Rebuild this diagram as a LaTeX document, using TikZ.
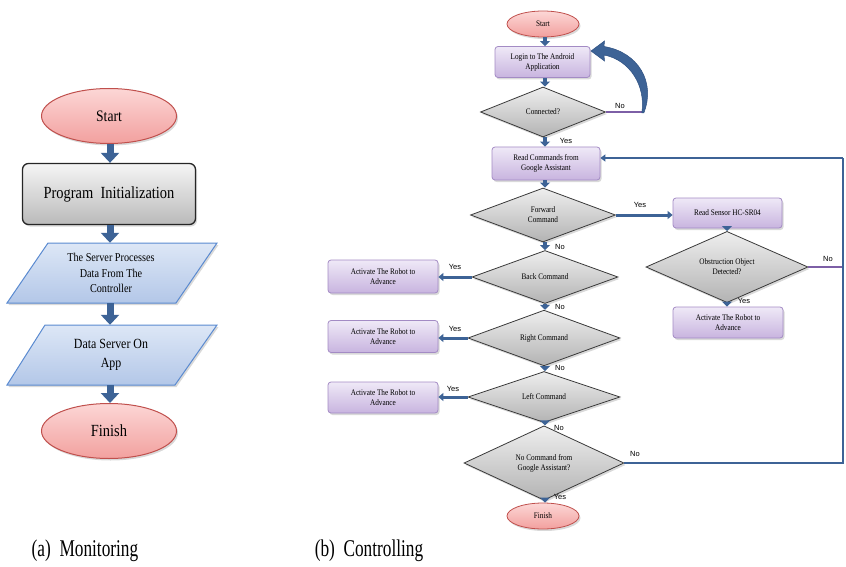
\documentclass[tikz,border=0pt]{standalone}
\usepackage{fontspec}
\setmainfont{Liberation Serif}[FakeStretch=0.85]
\newfontfamily\capfont{Liberation Serif}[FakeStretch=0.72]
\newfontfamily\lblfont{Liberation Sans}
\usetikzlibrary{shapes.geometric,arrows.meta,shadows}
\definecolor{arrblue}{HTML}{3D6396}
\definecolor{arrdark}{HTML}{2F5182}
\definecolor{purpline}{HTML}{7D5FA6}
\definecolor{boxdraw}{HTML}{A38BC4}
\definecolor{boxtop}{HTML}{EFE9F7}
\definecolor{boxbot}{HTML}{C8B4DF}
\definecolor{diadraw}{HTML}{3A3A3A}
\definecolor{diatop}{HTML}{EEEEEE}
\definecolor{diabot}{HTML}{B3B3B3}
\definecolor{termdraw}{HTML}{C0504D}
\definecolor{termtop}{HTML}{FCD7D6}
\definecolor{termbot}{HTML}{F2A09E}
\definecolor{paradraw}{HTML}{5A8AD0}
\definecolor{paratop}{HTML}{DDE7F6}
\definecolor{parabot}{HTML}{B3C7E8}
\tikzset{
  shad/.style={drop shadow={opacity=0.3,shadow xshift=1.5pt,shadow yshift=-2pt}},
  pbox/.style={rectangle,rounded corners=3pt,draw=boxdraw,line width=0.8pt,
    top color=boxtop,bottom color=boxbot,align=center,inner sep=1pt,shad,
    font=\fontsize{8.5}{10}\selectfont},
  dia/.style={diamond,draw=diadraw,line width=0.8pt,top color=diatop,bottom color=diabot,
    inner sep=0pt,align=center,shad,font=\fontsize{8.5}{10}\selectfont},
  sterm/.style={ellipse,draw=termdraw,line width=0.8pt,top color=termtop,bottom color=termbot,
    inner sep=0pt,minimum width=72pt,minimum height=26pt,shad,font=\fontsize{8.5}{10}\selectfont},
  bterm/.style={ellipse,draw=termdraw,line width=1pt,top color=termtop,bottom color=termbot,
    inner sep=0pt,minimum width=135pt,minimum height=55pt,shad},
  initbox/.style={rectangle,rounded corners=6pt,draw=black!85,line width=1.3pt,
    top color=black!4,bottom color=black!27,minimum width=173pt,minimum height=61pt,shad,
    font=\fontsize{17}{20}\selectfont},
  paranode/.style={minimum width=130pt,minimum height=60pt,inner sep=0pt,align=center},
  parashape/.style={draw=paradraw,line width=1pt,top color=paratop,bottom color=parabot,shad},
  barrow/.style={draw=arrblue,line width=7pt,-{Triangle[length=10pt,width=18pt]}},
  sarrow/.style={draw=arrblue,line width=4pt,-{Triangle[length=5pt,width=10pt]}},
  harrow/.style={draw=arrblue,line width=3pt,-{Triangle[length=5pt,width=8pt]}},
  loopline/.style={draw=arrblue,line width=2.5pt},
  noline/.style={draw=purpline,line width=1.5pt},
  lbl/.style={font=\lblfont\fontsize{7.5}{9}\selectfont,inner sep=0pt},
  capt/.style={font=\capfont\fontsize{24}{28}\selectfont,inner sep=0pt}
}
\begin{document}
\begin{tikzpicture}[x=1pt,y=-1pt]
\useasboundingbox (0,0) rectangle (846,567);

% ---------- (a) Monitoring ----------
\node[bterm,font=\fontsize{16}{19}\selectfont] (astart) at (109,116) {Start};
\node[initbox] (ainit) at (109,194) {Program\ \ Initialization};
\path[parashape] (48,243) -- (217,243) -- (176,303) -- (7,303) -- cycle;
\node[paranode,font=\fontsize{12}{15.5}\selectfont] (ap1) at (111,273) {The Server Processes\\Data From The\\Controller};
\path[parashape] (45,325) -- (217,325) -- (175,385) -- (7,385) -- cycle;
\node[paranode,font=\fontsize{14}{19}\selectfont] (ap2) at (111,355) {Data Server On\\App};
\node[bterm,font=\fontsize{17}{20}\selectfont] (afin) at (109,431) {Finish};

\draw[barrow] (astart.south -| 110,0) -- (ainit.north -| 110,0);
\draw[barrow] (ainit.south -| 110,0) -- (ap1.north -| 110,0);
\draw[barrow] (ap1.south -| 110,0) -- (ap2.north -| 110,0);
\draw[barrow] (ap2.south -| 110,0) -- (afin.north -| 110,0);

\node[capt] (capa) at (85,551) {(a)\ \ Monitoring};

% ---------- (b) Controlling ----------
\node[sterm] (bstart) at (543,24) {Start};
\node[pbox,minimum width=95pt,minimum height=31pt] (login) at (542.5,62) {Login to The Android\\Application};
\node[dia,minimum width=125pt,minimum height=50pt] (conn) at (543,112) {Connected?};
\node[pbox,minimum width=108pt,minimum height=33pt] (read) at (546,163.5) {Read Commands from\\Google Assistant};
\node[dia,minimum width=145pt,minimum height=54pt] (fwd) at (543,215) {Forward\\Command};
\node[pbox,minimum width=109pt,minimum height=30pt] (sensor) at (727.5,213) {Read Sensor HC-SR04};
\node[dia,minimum width=162pt,minimum height=60pt] (obs) at (727,267) {Obstruction Object\\Detected?};
\node[pbox,minimum width=110pt,minimum height=31pt] (actr) at (728,322.5) {Activate The Robot to\\Advance};
\node[dia,minimum width=146pt,minimum height=53pt] (back) at (545,277) {Back Command};
\node[pbox,minimum width=110pt,minimum height=33pt] (act1) at (383,276.5) {Activate The Robot to\\Advance};
\node[dia,minimum width=152pt,minimum height=51pt] (rightc) at (544,338) {Right Command};
\node[pbox,minimum width=110pt,minimum height=32pt] (act2) at (383,336.5) {Activate The Robot to\\Advance};
\node[dia,minimum width=152pt,minimum height=51pt] (leftc) at (544,397) {Left Command};
\node[pbox,minimum width=110pt,minimum height=31pt] (act3) at (383,397.5) {Activate The Robot to\\Advance};
\node[dia,minimum width=160pt,minimum height=60pt] (nocmd) at (544,463) {No Command from\\Google Assistant?};
\node[sterm] (bfin) at (543,516) {Finish};

% vertical arrows
\draw[sarrow] (bstart.south -| 545,0) -- (login.north -| 545,0);
\draw[sarrow] (login.south -| 545,0) -- (conn.north -| 545,0);
\draw[sarrow] (conn.south -| 545,0) -- (read.north -| 545,0);
\draw[sarrow] (read.south -| 545,0) -- (fwd.north -| 545,0);
\draw[sarrow] (fwd.south -| 545,0) -- (back.north -| 545,0);
\draw[sarrow] (back.south -| 545,0) -- (rightc.north -| 545,0);
\draw[sarrow] (rightc.south -| 545,0) -- (leftc.north -| 545,0);
\draw[sarrow] (leftc.south -| 545,0) -- (nocmd.north -| 545,0);
\draw[sarrow] (nocmd.south -| 545,0) -- (bfin.north -| 545,0);
\draw[sarrow] (sensor.south -| 727,0) -- (obs.north -| 727,0);
\draw[sarrow] (obs.south -| 727,0) -- (actr.north -| 727,0);

% horizontal arrows
\draw[harrow] (fwd.east) -- (sensor.west |- fwd.east);
\draw[harrow] (back.west) -- (act1.east |- back.west);
\draw[harrow] (rightc.west) -- (act2.east |- rightc.west);
\draw[harrow] (leftc.west) -- (act3.east |- leftc.west);

% No line of Connected and curved return arrow
\coordinate (cturn) at (643,112);
\draw[noline] (conn.east) -- (cturn);
\fill[arrblue,draw=arrdark,line width=0.5pt]
  (643.8,113) .. controls (656,82) and (638,52) .. (604,46.5)
  -- (604.5,41) -- (591,51) -- (604.5,61) -- (604,55)
  .. controls (630,60) and (646,86) .. (641.8,113) -- cycle;

% No line of Obstruction
\coordinate (oturn) at (843,267);
\draw[noline] (obs.east) -- (oturn);

% loop back to Read Commands
\coordinate (lcorner) at (843,463);
\coordinate (ucorner) at (843,158);
\draw[loopline] (nocmd.east) -- (lcorner) -- (ucorner);
\draw[loopline,-{Triangle[length=5pt,width=7pt]}] (ucorner) -- ([yshift=5.5pt]read.east);

% labels
\node[lbl] (l1) at (620,106) {No};
\node[lbl] (l2) at (566,141) {Yes};
\node[lbl] (l3) at (640,205) {Yes};
\node[lbl] (l4) at (560,247) {No};
\node[lbl] (l5) at (828,259) {No};
\node[lbl] (l6) at (744,301) {Yes};
\node[lbl] (l7) at (455,267) {Yes};
\node[lbl] (l8) at (560,307) {No};
\node[lbl] (l9) at (455,329) {Yes};
\node[lbl] (l10) at (560,368) {No};
\node[lbl] (l11) at (453,389) {Yes};
\node[lbl] (l12) at (559,428) {No};
\node[lbl] (l13) at (635,454) {No};
\node[lbl] (l14) at (560,497) {Yes};

\node[capt] (capb) at (369,551) {(b)\ \ Controlling};
\end{tikzpicture}
\end{document}
